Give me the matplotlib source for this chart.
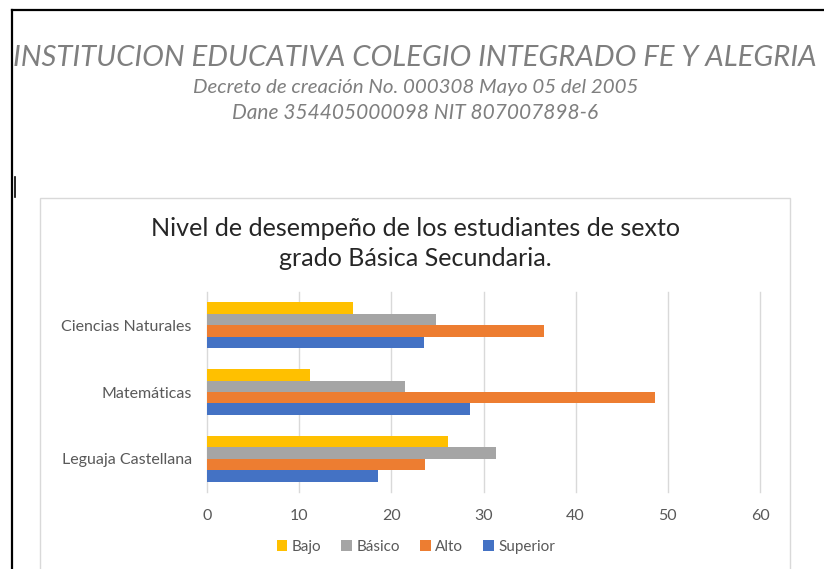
import numpy as np
import matplotlib.pyplot as plt
from matplotlib.lines import Line2D
from matplotlib.patches import Rectangle

# datos
materias = ['Leguaja Castellana', 'Matemáticas', 'Ciencias Naturales']
niveles = ['Bajo', 'Básico', 'Alto', 'Superior']
bajo = [26.1, 11.2, 15.8]
basico = [31.4, 21.5, 24.8]
alto = [23.6, 48.6, 36.6]
superior = [18.6, 28.5, 23.5]
colores = ['#FFC000', '#A5A5A5', '#ED7D31', '#4472C4']
xticks = [0, 10, 20, 30, 40, 50, 60]

W, H = 824, 569
fig = plt.figure(figsize=(W / 100, H / 100), dpi=100)
fig.patch.set_facecolor('white')

def fx(px):
    return px / W

def fy(py):
    return 1 - py / H

# marco de la pagina
fig.add_artist(Line2D([fx(12), fx(824)], [fy(10), fy(10)], color='black', lw=1.6))
fig.add_artist(Line2D([fx(12), fx(12)], [fy(10), fy(569)], color='black', lw=1.6))
fig.add_artist(Line2D([fx(15), fx(15)], [fy(177), fy(197)], color='black', lw=1.2))

renderer = fig.canvas.get_renderer()

def texto_ajustado(x, y, txt, ancho, **kw):
    t = fig.text(fx(x), fy(y), txt, ha='center', va='center', fontsize=14, **kw)
    w = t.get_window_extent(renderer).width
    t.set_fontsize(14 * ancho / w)
    return t

# encabezado
gris = '#7f7f7f'
texto_ajustado(415, 58, 'INSTITUCION EDUCATIVA COLEGIO INTEGRADO FE Y ALEGRIA', 806,
               color=gris, family='Lato', style='italic')
texto_ajustado(416, 87, 'Decreto de creación No. 000308 Mayo 05 del 2005', 447,
               color=gris, family='Lato', style='italic')
texto_ajustado(415, 113, 'Dane 354405000098 NIT 807007898-6', 365,
               color=gris, family='Lato', style='italic')

# caja del grafico
fig.add_artist(Rectangle((fx(40), fy(575)), fx(790) - fx(40), fy(198) - fy(575),
                         fill=False, edgecolor='#d9d9d9', lw=1.0))

# titulo
texto_ajustado(415, 229, 'Nivel de desempeño de los estudiantes de sexto', 530,
               family='Lato', color='#262626')
texto_ajustado(415, 259, 'grado Básica Secundaria.', 275,
               family='Lato', color='#262626')

ax = fig.add_axes([fx(207), fy(492), fx(760) - fx(207), fy(292) - fy(492)])
y = np.arange(len(materias))
alto_barra = 0.172
series = [bajo, basico, alto, superior]
for i, (vals, nom, col) in enumerate(zip(series, niveles, colores)):
    off = (1.5 - i) * alto_barra
    ax.barh(y + off, vals, height=alto_barra, color=col, label=nom, zorder=3)

ax.set_xlim(0, 60)
ax.set_ylim(-0.5, 2.5)
ax.set_xticks(xticks)
ax.set_yticks(y)
ax.set_yticklabels(materias)
ax.grid(axis='x', color='#d9d9d9', lw=1.0, zorder=0)
for gl in ax.get_xgridlines():
    gl.set_clip_on(False)
for s in ax.spines.values():
    s.set_visible(False)
ax.tick_params(length=0, labelsize=11.5, labelcolor='#595959')
ax.tick_params(axis='y', pad=11)
ax.tick_params(axis='x', pad=12)
for lab in ax.get_xticklabels() + ax.get_yticklabels():
    lab.set_family('Lato')

leg = fig.legend(loc='center', bbox_to_anchor=(fx(416), fy(547)), ncol=4, frameon=False,
                 prop={'family': 'Lato', 'size': 11}, handlelength=0.7, handleheight=0.7,
                 handletextpad=0.3, columnspacing=1.3)
for t in leg.get_texts():
    t.set_color('#595959')

plt.savefig('out.png', dpi=100)
